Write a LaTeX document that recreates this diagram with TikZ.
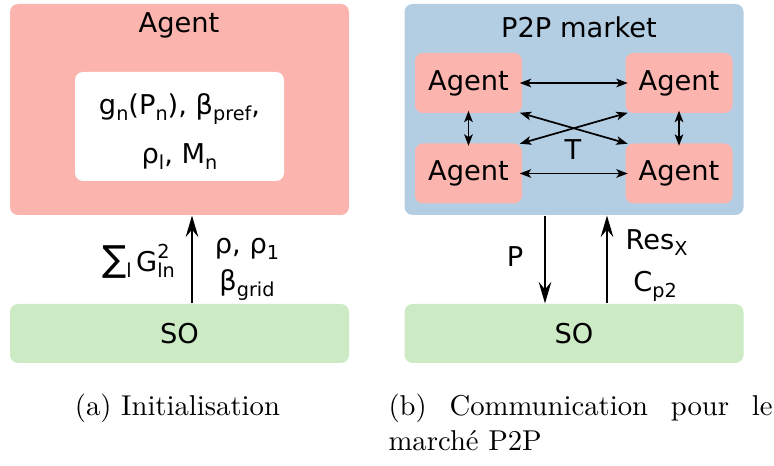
\documentclass[tikz,border=0pt]{standalone}
\usepackage{fontspec}
\newfontfamily\dejavu{DejaVu Sans}
\usetikzlibrary{arrows.meta,calc}

\definecolor{agentpink}{HTML}{FBB4AE}
\definecolor{marketblue}{HTML}{B3CDE3}
\definecolor{sogreen}{HTML}{CCEBC5}

% subscript / superscript pieces set in the sans text font
\newcommand\lowtxt[1]{\raisebox{-0.22em}{\fontsize{6.7}{7}\selectfont #1}}
\newcommand\hightxt[1]{\raisebox{0.48em}{\fontsize{6.7}{7}\selectfont #1}}
\newcommand\bigsum{{\fontsize{12.5}{13}\selectfont ∑}}

\tikzset{
  smalltip/.tip={Stealth[length=4pt,width=3pt,inset=1pt]},
  bigtip/.tip={Stealth[length=7.5pt,width=4.4pt,inset=2.6pt]},
}

\begin{document}
\begin{tikzpicture}[x=0.3485pt,y=-0.3485pt,
  panel/.style={rectangle, rounded corners=2.8pt, inner sep=0pt,
    minimum width=339*0.3485pt, minimum height=211*0.3485pt},
  sobox/.style={rectangle, rounded corners=2.8pt, inner sep=0pt, fill=sogreen,
    minimum width=339*0.3485pt, minimum height=59*0.3485pt,
    font=\dejavu\fontsize{9.5}{11}\selectfont},
  agentsm/.style={rectangle, rounded corners=2.8pt, inner sep=0pt, fill=agentpink,
    minimum width=107*0.3485pt, minimum height=60*0.3485pt,
    font=\dejavu\fontsize{9.5}{11}\selectfont},
  lbl/.style={anchor=base, inner sep=0pt, font=\dejavu\fontsize{9.5}{11}\selectfont},
  caption/.style={inner sep=0pt, font=\fontsize{10}{12}\selectfont},
  bigarrow/.style={-bigtip, line width=0.7pt},
  smallarrow/.style={smalltip-smalltip, line width=0.6pt,
    shorten <=-1pt, shorten >=-1pt},
]
\useasboundingbox (0,0) rectangle (774,466);

% ---------- (a) initialisation ----------
\node[panel, fill=agentpink] (agentbox) at (179.5,109.5) {};
\node[lbl] (agenttitle) at (179,33) {Agent};
\node[rectangle, rounded corners=2.8pt, inner sep=0pt, fill=white,
      minimum width=209*0.3485pt, minimum height=109*0.3485pt] (paramsbox) at (179.5,126.5) {};
\node[lbl] (paramsA) at (179.5,115) {g\lowtxt{n}(P\lowtxt{n}), β\lowtxt{pref},};
\node[lbl] (paramsB) at (179.5,164) {ρ\lowtxt{l}, M\lowtxt{n}};

\node[sobox] (soA) at (179.5,333.5) {SO};
\draw[bigarrow] ($(soA.north)+(12.5,0)$) -- ($(agentbox.south)+(12.5,0)$);
\node[lbl] (sumlbl) at (138.5,272) {\bigsum\lowtxt{l}\,G\rlap{\hightxt{2}}\lowtxt{ln}};
\node[lbl] (rholbl) at (247,254) {ρ, ρ\lowtxt{1}};
\node[lbl] (betalbl) at (247,291) {β\lowtxt{grid}};

% ---------- (b) P2P market ----------
\node[panel, fill=marketblue] (market) at (574,109.5) {};
\node[lbl] (markettitle) at (579,38) {P2P market};
\node[agentsm] (agTL) at (468.5,83) {Agent};
\node[agentsm] (agTR) at (679,83) {Agent};
\node[agentsm] (agBL) at (468.5,173.5) {Agent};
\node[agentsm] (agBR) at (679,173.5) {Agent};

\draw[smallarrow] (agTL.east) -- (agTR.west);
\draw[smallarrow] (agBL.east) -- (agBR.west);
\draw[smallarrow] (agTL.south) -- (agBL.north);
\draw[smallarrow] (agTR.south) -- (agBR.north);
\draw[smallarrow] (agTL.south east) -- (agBR.north west);
\draw[smallarrow] (agTR.south west) -- (agBL.north east);
\node[lbl] (tlbl) at (573,160) {T};

\node[sobox] (soB) at (574,333.5) {SO};
\draw[bigarrow] ($(market.south)+(-29,0)$) -- ($(soB.north)+(-29,0)$);
\draw[bigarrow] ($(soB.north)+(33,0)$) -- ($(market.south)+(33,0)$);
\node[lbl] (plbl) at (515,267) {P};
\node[lbl, anchor=base west] (reslbl) at (625,250) {Res\lowtxt{X}};
\node[lbl] (cplbl) at (655,292) {C\lowtxt{p2}};

% ---------- captions ----------
\node[caption, anchor=base] (capa) at (177.5,416) {(a) Initialisation};
\node[caption, anchor=base west] (capb) at (388,416)
  {\parbox[t]{133.8pt}{\makebox[\linewidth][s]{(b) Communication pour le}\\marché P2P}};
\end{tikzpicture}
\end{document}
